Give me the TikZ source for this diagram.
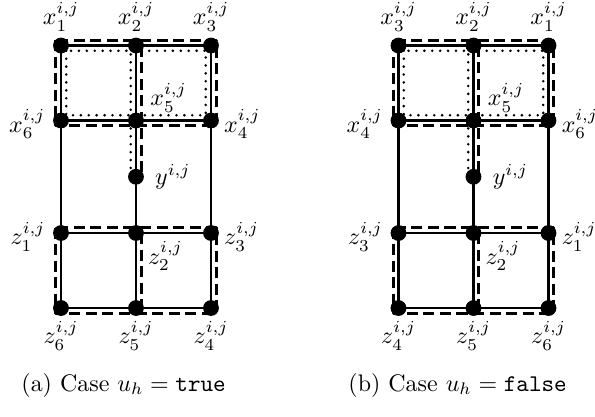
\documentclass[tikz,border=0pt]{standalone}
\usetikzlibrary{calc}
\begin{document}
\begin{tikzpicture}[x=1.1cm, y=1.1cm, line join=round,
	edge/.style={line width=1.2pt},
	walk/.style={line width=1.2pt, dash pattern=on 4.6pt off 2.3pt},
	tour/.style={line width=1.2pt, line cap=round, dash pattern=on 0pt off 3.3pt}]
	\def\offs{2.2pt}
	\useasboundingbox (-0.813,-1.44) rectangle (7.12,4.107);
	% case (a)
	\coordinate (x1) at (0,3.5);
	\coordinate (x2) at (1,3.5);
	\coordinate (x3) at (2,3.5);
	\coordinate (x6) at (0,2.5);
	\coordinate (x5) at (1,2.5);
	\coordinate (x4) at (2,2.5);
	\coordinate (y) at (1,1.75);
	\coordinate (z1) at (0,1);
	\coordinate (z2) at (1,1);
	\coordinate (z3) at (2,1);
	\coordinate (z6) at (0,0);
	\coordinate (z5) at (1,0);
	\coordinate (z4) at (2,0);
	\draw[edge] (x1)--(x3)--(x4)--(x6)--cycle (x2)--(z5) (x6)--(z1) (x4)--(z3) (z1)--(z3)--(z4)--(z6)--cycle;
	\draw[walk] ($(x1)+(-\offs,\offs)$) rectangle ($(x4)+(\offs,-\offs)$) ($(x2)+(\offs,0)$)--($(y)+(\offs,0)$);
	\draw[walk] ($(z1)+(-\offs,\offs)$) rectangle ($(z4)+(\offs,-\offs)$) ($(z2)+(\offs,0)$)--($(z5)+(\offs,0)$);
	\draw[tour] ($(x1)+(\offs,-\offs)$) rectangle ($(x5)+(-\offs,\offs)$);
	\draw[tour] ($(x2)+(\offs,-\offs)$)--($(x3)+(-\offs,-\offs)$)--($(x4)+(-\offs,\offs)$)--($(x5)+(\offs,\offs)$) ($(x5)+(-\offs,0)$)--($(y)+(-\offs,0)$);
	\fill (x1) circle (3.3pt) node[above=2.5pt] (lx1) {$x_1^{i,j}$};
	\fill (x2) circle (3.3pt) node[above=2.5pt] (lx2) {$x_2^{i,j}$};
	\fill (x3) circle (3.3pt) node[above=2.5pt] (lx3) {$x_3^{i,j}$};
	\fill (x6) circle (3.3pt) node[left=3pt, yshift=-1.5pt] (lx6) {$x_6^{i,j}$};
	\fill (x5) circle (3.3pt) node[above right, xshift=2.5pt] (lx5) {$x_5^{i,j}$};
	\fill (x4) circle (3.3pt) node[right=2pt, yshift=-1.5pt] (lx4) {$x_4^{i,j}$};
	\fill (y) circle (3.3pt) node[right=4.5pt] (ly) {$y^{i,j}$};
	\fill (z1) circle (3.3pt) node[left=3pt, yshift=-1.5pt] (lz1) {$z_1^{i,j}$};
	\fill (z2) circle (3.3pt) node[below right, xshift=1.5pt] (lz2) {$z_2^{i,j}$};
	\fill (z3) circle (3.3pt) node[right=2pt, yshift=-1.5pt] (lz3) {$z_3^{i,j}$};
	\fill (z6) circle (3.3pt) node[below=2pt] (lz6) {$z_6^{i,j}$};
	\fill (z5) circle (3.3pt) node[below=2pt] (lz5) {$z_5^{i,j}$};
	\fill (z4) circle (3.3pt) node[below=2pt] (lz4) {$z_4^{i,j}$};
	\node[anchor=west] (capa) at (-0.64,-1.027) {(a) Case $u_h=\texttt{true}$};
	% case (b)
	\coordinate (x3') at (4.5,3.5);
	\coordinate (x2') at (5.5,3.5);
	\coordinate (x1') at (6.5,3.5);
	\coordinate (x4') at (4.5,2.5);
	\coordinate (x5') at (5.5,2.5);
	\coordinate (x6') at (6.5,2.5);
	\coordinate (y') at (5.5,1.75);
	\coordinate (z3') at (4.5,1);
	\coordinate (z2') at (5.5,1);
	\coordinate (z1') at (6.5,1);
	\coordinate (z4') at (4.5,0);
	\coordinate (z5') at (5.5,0);
	\coordinate (z6') at (6.5,0);
	\draw[edge] (x3')--(x1')--(x6')--(x4')--cycle (x2')--(z5') (x4')--(z3') (x6')--(z1') (z3')--(z1')--(z6')--(z4')--cycle;
	\draw[walk] ($(x3')+(-\offs,\offs)$) rectangle ($(x6')+(\offs,-\offs)$) ($(x2')+(\offs,0)$)--($(y')+(\offs,0)$);
	\draw[walk] ($(z3')+(-\offs,\offs)$) rectangle ($(z6')+(\offs,-\offs)$) ($(z2')+(\offs,0)$)--($(z5')+(\offs,0)$);
	\draw[tour] ($(x3')+(\offs,-\offs)$) rectangle ($(x5')+(-\offs,\offs)$);
	\draw[tour] ($(x2')+(\offs,-\offs)$)--($(x1')+(-\offs,-\offs)$)--($(x6')+(-\offs,\offs)$)--($(x5')+(\offs,\offs)$) ($(x5')+(-\offs,0)$)--($(y')+(-\offs,0)$);
	\fill (x3') circle (3.3pt) node[above=2.5pt] (lx3') {$x_3^{i,j}$};
	\fill (x2') circle (3.3pt) node[above=2.5pt] (lx2') {$x_2^{i,j}$};
	\fill (x1') circle (3.3pt) node[above=2.5pt] (lx1') {$x_1^{i,j}$};
	\fill (x4') circle (3.3pt) node[left=3pt, yshift=-1.5pt] (lx4') {$x_4^{i,j}$};
	\fill (x5') circle (3.3pt) node[above right, xshift=2.5pt] (lx5') {$x_5^{i,j}$};
	\fill (x6') circle (3.3pt) node[right=2pt, yshift=-1.5pt] (lx6') {$x_6^{i,j}$};
	\fill (y') circle (3.3pt) node[right=4.5pt] (ly') {$y^{i,j}$};
	\fill (z3') circle (3.3pt) node[left=3pt, yshift=-1.5pt] (lz3') {$z_3^{i,j}$};
	\fill (z2') circle (3.3pt) node[below right, xshift=1.5pt] (lz2') {$z_2^{i,j}$};
	\fill (z1') circle (3.3pt) node[right=2pt, yshift=-1.5pt] (lz1') {$z_1^{i,j}$};
	\fill (z4') circle (3.3pt) node[below=2pt] (lz4') {$z_4^{i,j}$};
	\fill (z5') circle (3.3pt) node[below=2pt] (lz5') {$z_5^{i,j}$};
	\fill (z6') circle (3.3pt) node[below=2pt] (lz6') {$z_6^{i,j}$};
	\node[anchor=west] (capb) at (3.72,-1.027) {(b) Case $u_h=\texttt{false}$};
\end{tikzpicture}
\end{document}
